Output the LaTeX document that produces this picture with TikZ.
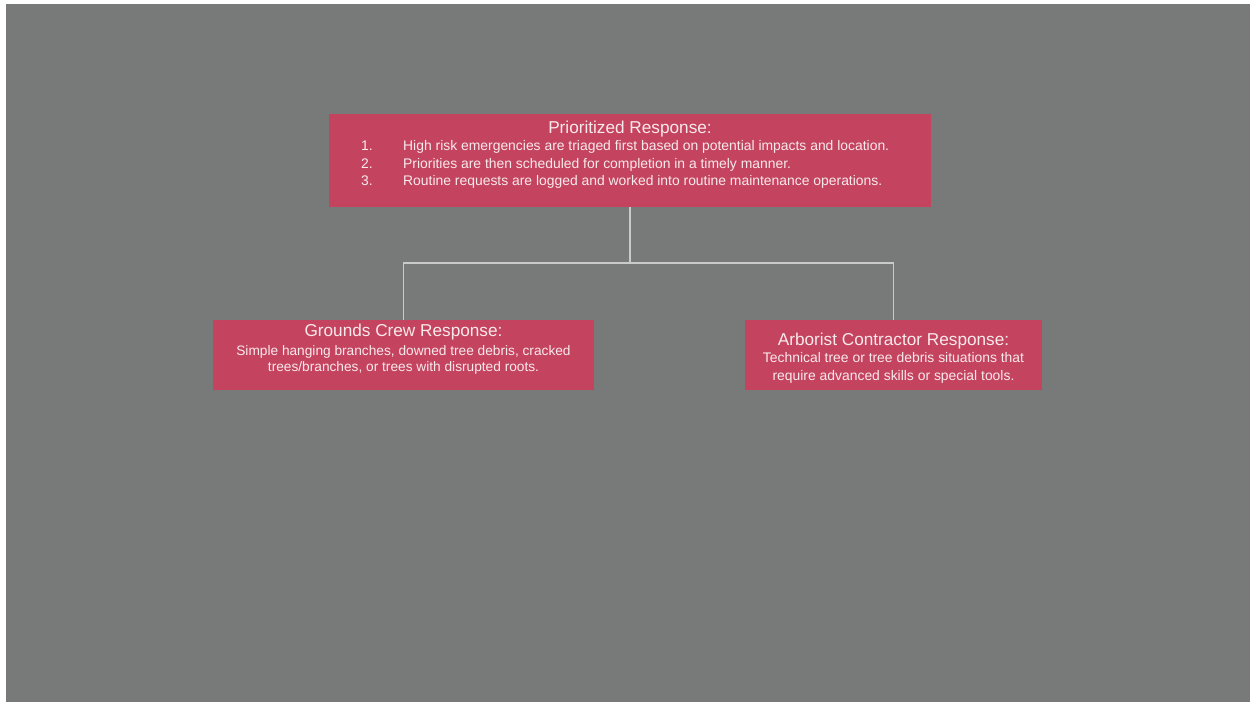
\documentclass[tikz,border=0pt]{standalone}
\usepackage{fontspec}
\setmainfont{Liberation Sans}
\usetikzlibrary{positioning}
\definecolor{bg}{HTML}{787A79}
\definecolor{rose}{HTML}{C4445F}
\definecolor{wire}{HTML}{CACACA}
\tikzset{
  box/.style={fill=rose, inner sep=0pt},
  head/.style={text=white!88!rose, inner sep=0pt, font=\fontsize{17.2}{19}\selectfont},
  body/.style={text=white!88!rose, inner sep=0pt, align=center},
  link/.style={draw=wire, line width=1.1pt}
}
\begin{document}
\begin{tikzpicture}[x=1pt,y=-1pt]
\useasboundingbox (0,0) rectangle (1253,704);
\fill [white] (0,0) rectangle (1253,704);
\fill [bg] (6,4) rectangle (1250,702);

% boxes
\node [box, minimum width=602pt, minimum height=93pt] (prio) at (630,160.5) {};
\node [box, minimum width=381pt, minimum height=70pt] (crew) at (403.5,355) {};
\node [box, minimum width=297pt, minimum height=70pt] (arbo) at (893.5,355) {};

% texts
\node [head] (priohead) at (630,129) {Prioritized Response:};
\node [body, anchor=west, font=\fontsize{13.9}{17.5}\selectfont] (priolist) at (361,164.5)
  {\begin{tabular}{@{}p{42pt}@{}l@{}}
   1. & High risk emergencies are triaged first based on potential impacts and location.\\
   2. & Priorities are then scheduled for completion in a timely manner.\\
   3. & Routine requests are logged and worked into routine maintenance operations.
   \end{tabular}};
\node [head] (crewhead) at (403.5,332) {Grounds Crew Response:};
\node [body, font=\fontsize{13.7}{16}\selectfont] (crewtext) at (403.5,360)
  {Simple hanging branches, downed tree debris, cracked\\trees/branches, or trees with disrupted roots.};
\node [head] (arbohead) at (893.5,341) {Arborist Contractor Response:};
\node [body, font=\fontsize{13.9}{18}\selectfont] (arbotext) at (893.5,368)
  {Technical tree or tree debris situations that\\require advanced skills or special tools.};

% connectors
\coordinate (split) at (630,263);
\draw [link] (prio.south) -- (split) -| (crew.north);
\draw [link] (split) -| (arbo.north);
\end{tikzpicture}
\end{document}
